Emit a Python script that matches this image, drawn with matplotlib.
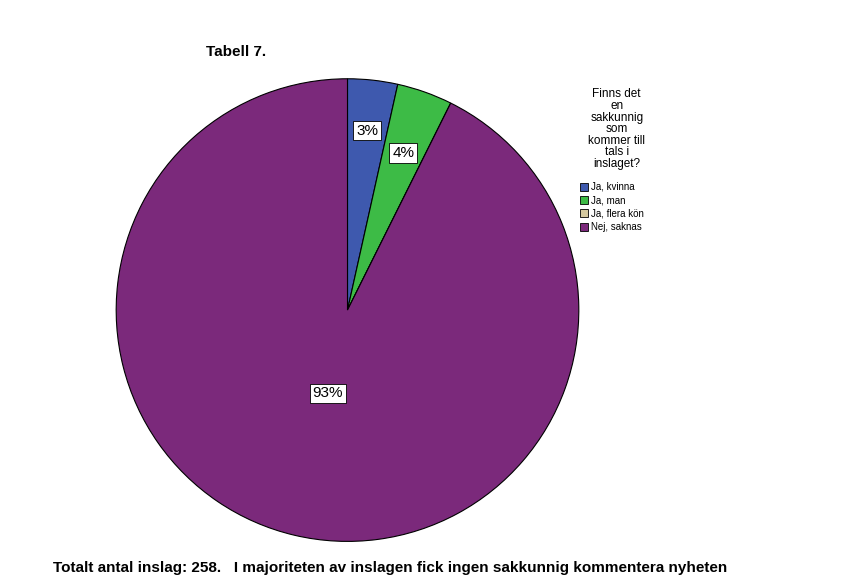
import matplotlib
matplotlib.use("Agg")
import matplotlib.pyplot as plt
import numpy as np

categories = ["Ja, kvinna", "Ja, man", "Ja, flera kön", "Nej, saknas"]
counts = [9, 10, 0, 239]
pct_labels = ["3%", "4%", "", "93%"]
colors = ["#3E59AE", "#3DBB46", "#D5C99F", "#7B297B"]

fig = plt.figure(figsize=(8.46, 5.87), dpi=100)
ax = fig.add_axes([0.1365, 0.0765, 0.5485, 0.7905])
wedges, _ = ax.pie(counts, colors=colors, startangle=90, counterclock=False,
                   wedgeprops=dict(edgecolor="black", linewidth=0.8))
ax.set_xlim(-1.003, 1.003)
ax.set_ylim(-1.003, 1.003)
ax.set_aspect("equal")
fracs = [0.78, 0.72, 0, 0.37]
for w, lab, fr in zip(wedges, pct_labels, fracs):
    if not lab:
        continue
    th = np.deg2rad((w.theta1 + w.theta2) / 2)
    ax.text(fr * np.cos(th), fr * np.sin(th), lab, ha="center", va="center", fontsize=11,
            family="Liberation Sans",
            bbox=dict(facecolor="white", edgecolor="black", linewidth=0.6, pad=2))

fig.text(0.243, 0.912, "Tabell 7.", fontsize=11, fontweight="bold", family="Liberation Sans", ha="left", va="center")
fig.text(0.729, 0.78, "Finns det\nen\nsakkunnig\nsom\nkommer till\ntals i\ninslaget?", fontsize=8.5,
         family="Liberation Sans", ha="center", va="center", linespacing=0.95)
from matplotlib.patches import Patch
handles = [Patch(facecolor=c, edgecolor="black", linewidth=0.6) for c in colors]
leg = fig.legend(handles, categories, loc="upper left", bbox_to_anchor=(0.685, 0.69), frameon=False,
                 prop=dict(family="Liberation Sans", size=7), handlelength=0.9, handleheight=0.9,
                 handletextpad=0.3, labelspacing=0.35, borderaxespad=0, borderpad=0)
fig.text(0.063, 0.032, "Totalt antal inslag: 258.   I majoriteten av inslagen fick ingen sakkunnig kommentera nyheten",
         fontsize=11, fontweight="bold", family="Liberation Sans", ha="left", va="center")
fig.savefig("out.png", dpi=100)
